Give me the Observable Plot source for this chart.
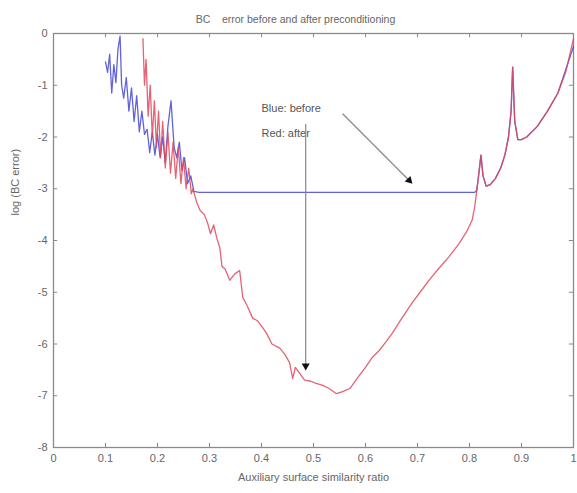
<!DOCTYPE html>
<html>
<head>
<meta charset="utf-8">
<script src="https://cdn.jsdelivr.net/npm/d3@7"></script>
<script src="https://cdn.jsdelivr.net/npm/@observablehq/plot@0.6"></script>
<style>
  html, body { margin: 0; padding: 0; background: white; }
  #chart { width: 577px; height: 493px; }
</style>
</head>
<body>
<div id="chart"></div>
<script>
// ---- data ----
const titleText = "BC    error before and after preconditioning";
const xLabel = "Auxiliary surface similarity ratio";
const yLabel = "log (BC error)";

const xTicks = [0, 0.1, 0.2, 0.3, 0.4, 0.5, 0.6, 0.7, 0.8, 0.9, 1];
const xTickLabels = ["0", "0.1", "0.2", "0.3", "0.4", "0.5", "0.6", "0.7", "0.8", "0.9", "1"];
const yTicks = [-8, -7, -6, -5, -4, -3, -2, -1, 0];
const yTickLabels = ["-8", "-7", "-6", "-5", "-4", "-3", "-2", "-1", "0"];

// Red: after preconditioning
const redX = [0.172, 0.175, 0.178, 0.182, 0.186, 0.19, 0.194, 0.198, 0.202, 0.206, 0.21, 0.215, 0.22, 0.225, 0.23, 0.235, 0.24, 0.245, 0.25, 0.255, 0.26, 0.265, 0.268, 0.275, 0.282, 0.29, 0.296, 0.302, 0.308, 0.314, 0.32, 0.324, 0.33, 0.339, 0.348, 0.358, 0.364, 0.372, 0.383, 0.392, 0.402, 0.41, 0.42, 0.435, 0.445, 0.454, 0.46, 0.465, 0.472, 0.483, 0.495, 0.505, 0.518, 0.53, 0.544, 0.556, 0.57, 0.585, 0.6, 0.613, 0.626, 0.64, 0.651, 0.67, 0.69, 0.705, 0.722, 0.74, 0.76, 0.78, 0.795, 0.805, 0.81, 0.814, 0.818, 0.822, 0.826, 0.832, 0.84, 0.85, 0.86, 0.868, 0.875, 0.88, 0.883, 0.887, 0.893, 0.9, 0.91, 0.93, 0.95, 0.97, 0.985, 1.0];
const redY = [-0.1, -1.0, -0.5, -1.6, -1.0, -2.0, -1.3, -2.2, -1.5, -2.4, -1.7, -2.6, -1.9, -2.7, -2.1, -2.8, -2.2, -2.9, -2.4, -3.0, -2.6, -3.1, -3.0, -3.25, -3.42, -3.5, -3.65, -3.87, -3.7, -3.95, -4.15, -4.5, -4.55, -4.77, -4.65, -4.58, -5.1, -5.25, -5.5, -5.55, -5.68, -5.8, -6.0, -6.08, -6.2, -6.36, -6.67, -6.45, -6.55, -6.7, -6.72, -6.76, -6.8, -6.86, -6.96, -6.92, -6.86, -6.65, -6.45, -6.26, -6.13, -5.95, -5.8, -5.5, -5.2, -5.0, -4.77, -4.55, -4.32, -4.06, -3.82, -3.61, -3.35, -3.03, -2.7, -2.35, -2.75, -2.95, -2.92, -2.8, -2.6, -2.35, -2.0, -1.5, -0.65, -1.7, -2.05, -2.05, -2.0, -1.8, -1.5, -1.15, -0.75, -0.1];

// Blue: before preconditioning (oscillating start, flat plateau, then same as red)
const blueX = [0.1, 0.104, 0.108, 0.112, 0.116, 0.12, 0.124, 0.128, 0.131, 0.135, 0.14, 0.145, 0.15, 0.155, 0.16, 0.165, 0.17, 0.175, 0.18, 0.185, 0.19, 0.195, 0.2, 0.205, 0.21, 0.215, 0.22, 0.226, 0.232, 0.237, 0.242, 0.247, 0.252, 0.258, 0.264, 0.27, 0.28, 0.81, 0.814, 0.818, 0.822, 0.826, 0.832, 0.84, 0.85, 0.86, 0.868, 0.875, 0.88, 0.883, 0.887, 0.893, 0.9, 0.91, 0.93, 0.95, 0.97, 0.985, 1.0];
const blueY = [-0.55, -0.75, -0.4, -1.15, -0.6, -0.95, -0.3, -0.05, -1.0, -1.25, -0.85, -1.5, -1.05, -1.7, -1.2, -1.9, -1.5, -1.95, -1.85, -2.3, -1.9, -2.35, -1.95, -2.4, -2.0, -2.5, -1.8, -1.3, -2.2, -2.4, -2.1, -2.65, -2.4, -2.9, -2.75, -3.05, -3.07, -3.07, -3.03, -2.7, -2.35, -2.75, -2.95, -2.92, -2.8, -2.6, -2.35, -2.0, -1.5, -0.65, -1.7, -2.05, -2.05, -2.0, -1.8, -1.5, -1.15, -0.7, -0.25];

// Annotations
const noteTexts = ["Blue: before", "Red: after"];
const noteX = [0.40, 0.40];
const noteY = [-1.45, -1.93];
const arrowX1 = [0.556, 0.485];
const arrowY1 = [-1.55, -1.75];
const arrowX2 = [0.684, 0.485];
const arrowY2 = [-2.84, -6.42];
const arrowHeadRotate = [136, 180];

// ---- tables ----
const red = redX.map((x, i) => ({x, y: redY[i]}));
const blue = blueX.map((x, i) => ({x, y: blueY[i]}));
const notes = noteTexts.map((t, i) => ({t, x: noteX[i], y: noteY[i]}));
const arrows = arrowX1.map((x1, i) => ({x1, y1: arrowY1[i], x2: arrowX2[i], y2: arrowY2[i], r: arrowHeadRotate[i]}));

const axisColor = "#8a8a8a";
const textColor = "#666";

const chart = Plot.plot({
  width: 577,
  height: 493,
  marginLeft: 53,
  marginRight: 4,
  marginTop: 33,
  marginBottom: 46,
  x: {domain: [0, 1]},
  y: {domain: [-8, 0]},
  style: {fontFamily: "'Liberation Sans', Arial, sans-serif", fontSize: "11px", color: textColor, background: "white"},
  marks: [
    Plot.frame({stroke: axisColor, strokeWidth: 1.3}),
    // inward ticks on all four sides
    Plot.ruleX(xTicks, {y1: -8, y2: -7.92, stroke: axisColor}),
    Plot.ruleX(xTicks, {y1: 0, y2: -0.08, stroke: axisColor}),
    Plot.ruleY(yTicks, {x1: 0, x2: 0.008, stroke: axisColor}),
    Plot.ruleY(yTicks, {x1: 1, x2: 0.992, stroke: axisColor}),
    Plot.axisX(xTicks, {anchor: "bottom", tickSize: 0, tickPadding: 7, tickFormat: (d, i) => xTickLabels[i], label: null, fill: textColor}),
    Plot.axisY(yTicks, {anchor: "left", tickSize: 0, tickPadding: 6, tickFormat: (d, i) => yTickLabels[i], label: null, fill: textColor}),
    Plot.text([xLabel], {frameAnchor: "bottom", dy: 33, fill: textColor, fontSize: 11}),
    Plot.text([yLabel], {frameAnchor: "left", dx: -38, dy: -25, rotate: -90, fill: textColor, fontSize: 11}),
    Plot.text([titleText], {frameAnchor: "top", dx: -18, dy: -18, fill: textColor, fontSize: 10.5}),
    // data lines
    Plot.line(blue, {x: "x", y: "y", stroke: "#4646d2", strokeWidth: 1.3, strokeOpacity: 0.85}),
    Plot.line(red, {x: "x", y: "y", stroke: "#e0485c", strokeWidth: 1.3, strokeOpacity: 0.85}),
    // annotations
    Plot.text(notes, {x: "x", y: "y", text: "t", textAnchor: "start", fill: "#555", fontSize: 11}),
    Plot.link(arrows, {x1: "x1", y1: "y1", x2: "x2", y2: "y2", stroke: "#888", strokeWidth: 1.2}),
    Plot.dot(arrows, {x: "x2", y: "y2", r: 3, symbol: "triangle", rotate: "r", fill: "#111", stroke: "none"})
  ]
});

document.getElementById("chart").appendChild(chart);
</script>
</body>
</html>
